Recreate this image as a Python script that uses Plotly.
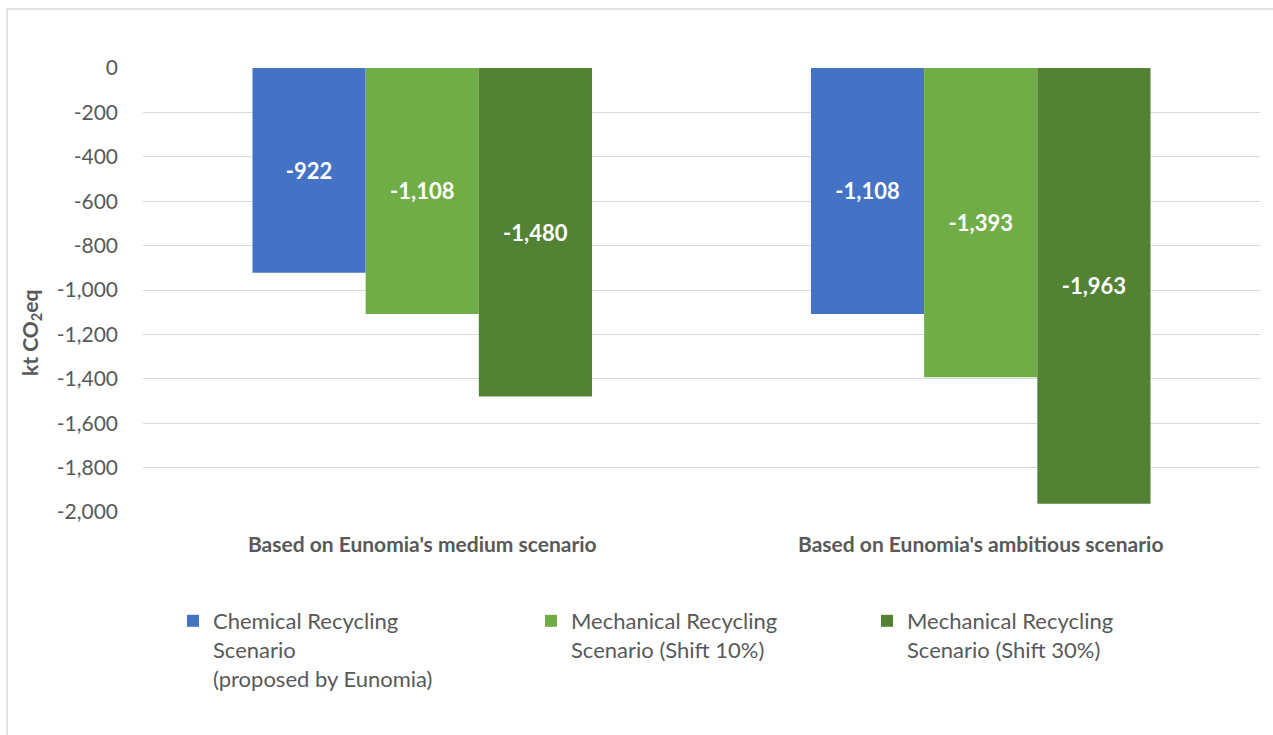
import plotly.graph_objects as go

categories = ["Based on Eunomia's medium scenario", "Based on Eunomia's ambitious scenario"]
series_names = [
    "Chemical Recycling<br>Scenario<br>(proposed by Eunomia)",
    "Mechanical Recycling<br>Scenario (Shift 10%)",
    "Mechanical Recycling<br>Scenario (Shift 30%)",
]
chemical = [-922, -1108]
mech_10 = [-1108, -1393]
mech_30 = [-1480, -1963]
colors = ["#4472C4", "#70AD47", "#548235"]
y_ticks = list(range(0, -2001, -200))
y_tick_text = [f"{v:,}" for v in y_ticks]

FONT = "Lato"
W, H = 1273, 735
L, R, T, B = 143, 13, 68, 223
pw, ph = W - L - R, H - T - B

legend_ids = ["legend", "legend2", "legend3"]
legend_px = [173, 531, 867]

fig = go.Figure()
for name, vals, col, lg in zip(series_names, [chemical, mech_10, mech_30], colors, legend_ids):
    fig.add_trace(go.Bar(
        x=categories, y=vals, name=name, legend=lg,
        marker=dict(color=col, line=dict(width=0)),
        text=[f"{v:,}" for v in vals],
        textposition="inside", insidetextanchor="middle",
        textfont=dict(family=FONT, size=22, color="white", weight="bold"),
        textangle=0,
        hoverinfo="skip",
    ))

legend_common = dict(
    xanchor="left", y=(H - B - 600) / ph, yanchor="top",
    font=dict(family=FONT, size=22, color="#595959"),
    valign="top", bgcolor="rgba(0,0,0,0)",
)
legend_layout = {
    lg: dict(x=(px - L) / pw, **legend_common) for lg, px in zip(legend_ids, legend_px)
}

fig.update_layout(
    width=W, height=H,
    margin=dict(l=L, r=R, t=T, b=B, autoexpand=False),
    paper_bgcolor="white", plot_bgcolor="white",
    barmode="group", bargap=0.392, bargroupgap=0,
    font=dict(family=FONT, color="#595959"),
    showlegend=True,
    **legend_layout,
    xaxis=dict(
        showgrid=False, showline=False, zeroline=False, ticks="",
        tickfont=dict(family=FONT, size=21, color="#595959", weight="bold"),
        ticklabelstandoff=18, fixedrange=True,
    ),
    yaxis=dict(
        range=[-2000, 0], tickvals=y_ticks, ticktext=y_tick_text,
        showgrid=True, gridcolor="#D9D9D9", gridwidth=1.3,
        zeroline=False, showline=False, ticks="",
        tickfont=dict(family=FONT, size=21, color="#595959"),
        ticklabelstandoff=24, fixedrange=True,
    ),
    annotations=[dict(
        text="kt CO<sub>2</sub>eq", textangle=-90,
        xref="paper", yref="paper",
        x=(31 - L) / pw, y=(H - B - 333) / ph,
        xanchor="center", yanchor="middle", showarrow=False,
        font=dict(family=FONT, size=21, color="#595959", weight="bold"),
    )],
    shapes=[dict(
        type="rect", xref="paper", yref="paper",
        x0=(7 - L) / pw, x1=(1290 - L) / pw,
        y0=(H - B - 750) / ph, y1=(H - B - 9) / ph,
        line=dict(color="#D9D9D9", width=1.5), fillcolor="rgba(0,0,0,0)",
        layer="below",
    )],
)

fig.write_html(
    "out.html",
    config={"displayModeBar": False, "staticPlot": False},
    post_script="document.body.style.margin='0';document.body.style.overflow='hidden';",
)
